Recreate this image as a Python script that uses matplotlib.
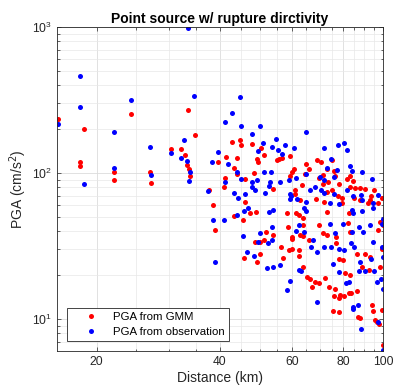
import numpy as np
import matplotlib
matplotlib.use("Agg")
import matplotlib.pyplot as plt
from matplotlib.ticker import FixedLocator, FixedFormatter, LogLocator, NullFormatter

plt.rcParams['font.family'] = ['Liberation Sans', 'DejaVu Sans']

# PGA from GMM (distance km, PGA cm/s^2)
gmm_dist = [16.1, 18.6, 18.2, 18.2, 22.0, 22.1, 24.2, 27.0, 27.1, 30.4, 32.2, 32.9, 33.3, 33.6,
            33.8, 33.5, 34.7, 38.5, 38.8, 42.9, 44.7, 45.0, 48.0, 50.4, 41.4, 44.1, 39.6, 49.2,
            51.1, 55.1, 56.7, 59.4, 55.8, 49.5, 43.4, 48.4, 64.8, 65.8, 69.0, 70.4, 74.9, 75.9,
            41.2, 43.9, 46.1, 41.0, 37.5, 46.1, 53.8, 59.3, 61.0, 63.6, 69.6, 71.4, 73.3, 75.0,
            78.3, 81.7, 84.3, 82.9, 85.6, 87.8, 90.6, 95.2, 93.6, 99.6, 79.6, 84.9, 88.1, 92.0,
            97.1, 68.6, 71.9, 47.3, 43.4, 48.9, 58.2, 62.3, 73.0, 82.4, 45.5, 48.6, 50.1, 51.7,
            51.3, 53.9, 45.9, 50.2, 56.9, 56.4, 58.8, 59.8, 63.8, 65.8, 62.3, 63.8, 66.4, 68.3,
            69.6, 72.3, 73.7, 76.4, 77.9, 78.6, 80.5, 82.4, 83.6, 86.4, 75.7, 77.9, 86.8, 88.1,
            94.1, 94.6, 95.4, 96.6, 97.9, 99.4, 100.0, 90.4, 88.9, 92.3, 98.5, 100.0, 97.4, 99.4,
            80.8, 83.2, 79.7, 76.7, 76.8, 69.6, 72.9, 63.8, 58.6, 62.4, 65.2, 67.2, 76.1, 93.1,
            60.8, 73.2, 64.6, 49.3, 59.9, 76.2, 83.2, 61.0, 62.6, 71.4, 73.0, 77.7, 79.3, 93.0,
            61.4, 63.9, 59.9, 62.6, 71.4, 82.0, 83.2, 98.5, 59.9, 78.3, 86.2]
gmm_pga = [235, 200, 120, 112, 101, 90, 253, 102, 85, 146, 146, 134, 113, 106,
           96, 271, 183, 60, 41, 162, 168, 156, 158, 149, 128, 126, 119, 124,
           132, 122, 127, 130, 125, 120, 108, 100, 116, 107, 122, 120, 123, 104,
           93, 98, 91, 80, 77, 63, 78, 96, 77, 83, 93, 97, 87, 76,
           84, 91, 88, 80, 79, 79, 78, 77, 70, 68, 68, 67, 65, 62,
           62, 66, 63, 53, 51, 54, 53, 52, 54, 53, 48, 33.5, 34, 39.5,
           34.7, 37.5, 26.4, 27.7, 26.4, 31, 29.7, 35.5, 37, 35, 27, 22.8, 18.9, 18,
           17.6, 19.2, 16.5, 16, 13.9, 14.6, 14.4, 15, 15.2, 15.5, 11.3, 11.2, 10.4, 10.2,
           12.5, 11.3, 9.9, 9.5, 9.2, 11.5, 6.6, 28, 22.8, 21.7, 22.8, 44, 40.6, 30.4,
           20.8, 20.1, 25.4, 33, 36.5, 44, 37.5, 44, 42.7, 29.7, 19.3, 16.5, 14.4, 26.6,
           107, 106, 99, 24.7, 101, 96, 95, 72, 65, 84.5, 74, 70, 62.5, 65,
           53, 49, 36.6, 37.5, 38.6, 45.5, 39.5, 46, 30.4, 26, 28]

# PGA from observation
obs_dist = [33.5, 18.2, 18.2, 24.2, 34.5, 44.7, 42.9, 41.2, 45.0, 50.2, 16.1, 22.0, 18.6, 22.1,
            27.0, 27.1, 30.4, 32.7, 32.2, 33.3, 33.8, 33.6, 38.5, 38.8, 40.8, 37.4, 48.0, 64.8,
            51.0, 54.7, 53.5, 55.4, 57.5, 56.6, 39.6, 49.6, 38.2, 41.9, 71.9, 77.7, 80.4, 81.7,
            44.1, 51.3, 53.4, 45.0, 41.2, 47.9, 49.2, 53.1, 56.2, 48.0, 48.6, 52.6, 43.3, 44.2,
            46.1, 51.5, 59.1, 61.2, 59.3, 59.4, 61.6, 66.3, 68.3, 71.6, 70.1, 71.9, 73.2, 77.3,
            76.0, 76.1, 83.2, 84.1, 88.7, 81.7, 94.1, 88.6, 97.5, 100.0, 78.0, 94.8, 88.9, 64.0,
            64.9, 46.9, 45.9, 53.8, 52.6, 43.9, 45.5, 50.0, 53.5, 49.6, 52.3, 53.5, 48.4, 46.5,
            52.0, 53.9, 56.2, 59.3, 58.4, 62.4, 64.3, 67.6, 69.0, 62.4, 63.1, 71.6, 74.7, 76.4,
            79.7, 83.4, 84.9, 83.9, 87.3, 89.3, 94.8, 99.4, 93.6, 88.1, 90.6, 87.3, 95.0, 96.6,
            99.0, 100.0, 82.4, 81.2, 75.6, 78.3, 84.4, 88.6, 69.0, 86.8, 77.9, 80.3, 84.3, 97.4,
            100.0, 60.8, 74.5, 64.9, 70.7, 74.3, 64.9, 59.6, 84.6, 88.7, 94.6, 84.0, 84.6, 74.3,
            61.4, 66.9, 99.2, 93.0, 100.0]
obs_pga = [985, 460, 284, 315, 337, 332, 258, 223, 210, 210, 216, 190, 84.5, 109,
           150, 97, 137, 168, 126, 121, 101, 88.5, 48, 24.5, 48, 75, 186, 190,
           161, 170, 151, 145, 156, 136, 140, 141, 120, 116, 148, 155, 160, 144,
           102, 102, 101, 91, 87, 87, 89, 87.5, 87.5, 80, 76, 81, 73, 68,
           72, 73, 90, 92, 72, 66, 66, 77, 80, 73, 94, 90, 109, 105,
           94, 72, 112, 104, 101, 77, 91, 71, 71, 48.7, 61, 58, 55, 58,
           55, 58, 55, 56, 54, 52, 37, 39, 43, 34, 33, 35, 27, 29,
           22.3, 22.6, 23.3, 18.3, 15.8, 44, 39.5, 35, 29, 21.7, 21.2, 31, 31, 38.6,
           45, 33, 31, 39.5, 42.7, 39.5, 34, 31, 26, 24.7, 21.4, 21.3, 21.4, 18,
           18.8, 16, 18, 17.6, 24, 21, 12.2, 8.5, 13.1, 12.4, 30.4, 29.7, 11.7, 9.6,
           6.1, 148, 125, 99, 76, 62, 63, 70, 70, 65, 62, 55.6, 53, 45,
           40, 31, 45, 44, 26.6]

x_ticks = [20, 40, 60, 80, 100]
x_ticklabels = ['20', '40', '60', '80', '100']

fig = plt.figure(figsize=(3.93, 3.91), dpi=100)
ax = fig.add_axes([0.145, 0.1023, 0.8295, 0.8286])

ax.plot(gmm_dist, gmm_pga, 'o', color='#ff0000', markersize=3.6, markeredgewidth=0,
        label='PGA from GMM')
ax.plot(obs_dist, obs_pga, 'o', color='#0000ff', markersize=3.6, markeredgewidth=0,
        label='PGA from observation')

ax.set_xscale('log')
ax.set_yscale('log')
ax.set_xlim(16, 100)
ax.set_ylim(6.05, 1000)

ax.xaxis.set_major_locator(FixedLocator(x_ticks))
ax.xaxis.set_major_formatter(FixedFormatter(x_ticklabels))
ax.xaxis.set_minor_locator(FixedLocator(np.arange(20, 100, 5)))
ax.xaxis.set_minor_formatter(NullFormatter())
ax.yaxis.set_minor_locator(LogLocator(base=10, subs=np.arange(2, 10)))
ax.yaxis.set_minor_formatter(NullFormatter())

ax.grid(True, which='major', color='#dcdcdc', linewidth=0.6)
ax.grid(True, which='minor', color='#e8e8e8', linewidth=0.5)
ax.set_axisbelow(True)

tc = '#262626'
ax.tick_params(which='both', direction='in', top=True, right=True, colors=tc,
               labelsize=8.7, width=0.5)
ax.tick_params(which='major', length=3)
ax.tick_params(which='minor', length=1.8)
for s in ax.spines.values():
    s.set_color('#262626')
    s.set_linewidth(0.6)

ax.set_title('Point source w/ rupture dirctivity', fontsize=10, fontweight='bold',
             color='black', pad=3)
ax.set_xlabel('Distance (km)', fontsize=10, color=tc, labelpad=2)
ax.set_ylabel('PGA (cm/s$^2$)', fontsize=10, color=tc, labelpad=2)

leg = ax.legend(loc='lower left', fontsize=8.2, fancybox=False, edgecolor='#262626',
                framealpha=1, borderaxespad=0.85, handletextpad=0.15, borderpad=0.4,
                labelspacing=0.4, handlelength=3.5)
leg.get_frame().set_linewidth(0.6)

fig.savefig('out.png', dpi=100)
